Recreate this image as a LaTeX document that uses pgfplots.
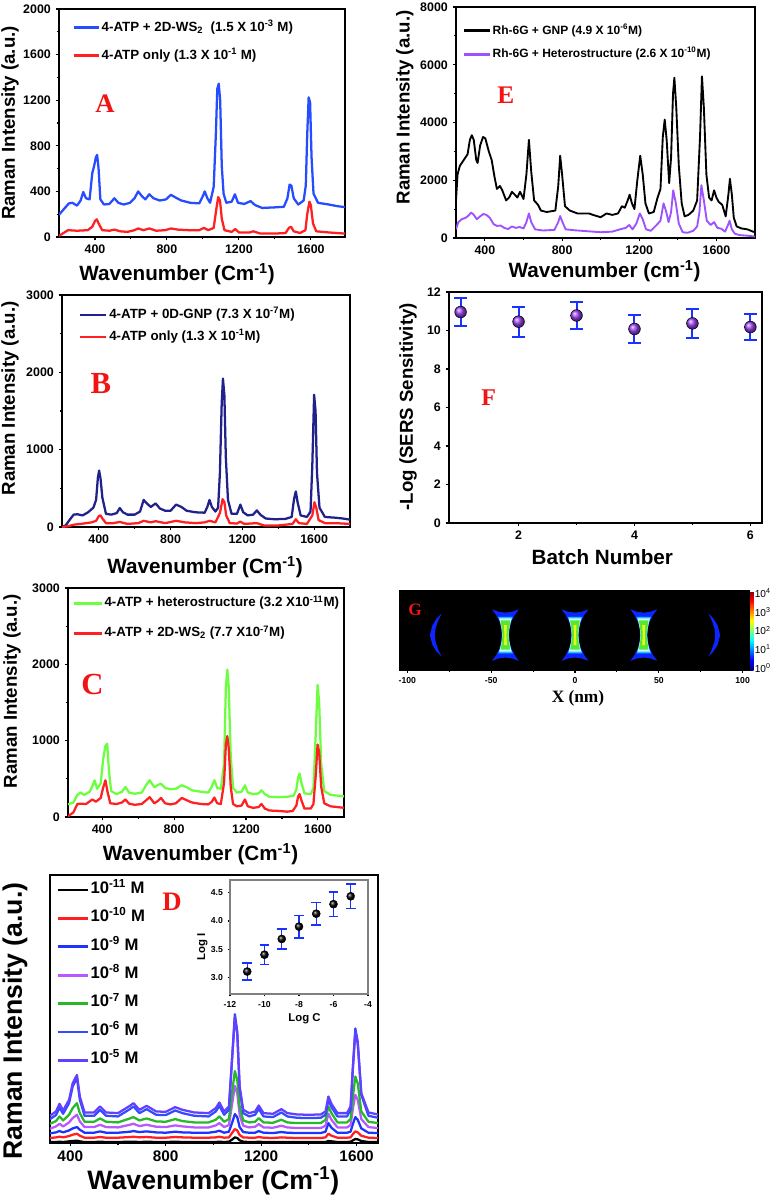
\documentclass[border=0pt]{standalone}
\usepackage{pgfplots}
\pgfplotsset{compat=1.18}
\usepackage{pgfplotstable}
\usepackage{fontspec}
\setmainfont{Liberation Sans}
\newfontfamily\tnr{Liberation Serif}

\definecolor{cBlueA}{rgb}{0.15,0.3,1}
\definecolor{cRed}{rgb}{1,0.13,0.13}
\definecolor{cNavy}{rgb}{0.13,0.13,0.55}
\definecolor{cGreen}{rgb}{0.42,1,0.25}
\definecolor{cPurE}{rgb}{0.62,0.32,1}
\definecolor{cErr}{rgb}{0.1,0.2,1}
\definecolor{cBallF}{rgb}{0.6,0.25,0.95}
\definecolor{dRed}{rgb}{1,0.12,0.12}
\definecolor{dBlue}{rgb}{0.12,0.2,1}
\definecolor{dPur}{rgb}{0.72,0.35,1}
\definecolor{dGreen}{rgb}{0.15,0.72,0.15}
\definecolor{dBlueB}{rgb}{0.2,0.3,1}
\definecolor{dViol}{rgb}{0.38,0.25,1}
\definecolor{gBlue}{rgb}{0.05,0.15,1}
\definecolor{gCyan}{rgb}{0.1,0.75,1}
\definecolor{gWhite}{rgb}{0.8,1,1}
\definecolor{gGreen}{rgb}{0.35,0.9,0.2}
\definecolor{gYellow}{rgb}{0.9,1,0.1}
\definecolor{letterred}{rgb}{0.95,0.08,0.08}

\newcommand\fs[1]{\fontsize{#1}{#1}\selectfont}

\pgfplotsset{
  panel/.style={
    scale only axis, anchor=north west,
    axis line style={line width=0.9pt},
    tick align=outside, tick pos=left,
    major tick length=2.6pt, minor tick length=1.6pt,
    every tick/.style={black, line width=0.8pt},
    /pgf/number format/assume math mode=true,
    /pgf/number format/1000 sep={},
    ticklabel style={font=\bfseries\fs{9.3}},
    ylabel style={font=\bfseries\fs{14}, anchor=center},
    xlabel style={font=\bfseries\fs{15.5}, anchor=center},
    legend cell align=left,
    legend style={draw=none, fill=none, anchor=north west,
      nodes={inner sep=1pt, text height=0.75em, text depth=0.25em}},
  },
  spec/.style={line width=1.7pt, mark=none, line join=round},
  limg/.style={legend image code/.code={\draw[##1, line width=2.2pt] (0pt,0pt) -- (#1,0pt);}},
}

\pgfplotstableread{
x c11 c10 c9 c8 c7 c6 c5
315 3 15 29 43 58 72 82
340 3 17 32 50 66 84 95
355 4 19 36 58 80 106 118
370 3 17 32 50 68 88 98
395 5 21 38 62 85 120 130
410 6 25 44 75 105 170 180
428 7 28 48 85 120 196 205
440 5 22 40 65 90 130 140
460 3 16 31 48 64 82 92
500 3 16 31 48 64 82 92
525 4 18 35 55 74 100 110
550 3 16 31 48 64 82 92
600 3 16 31 47 62 80 90
650 4 18 34 55 74 102 112
665 4 19 36 58 78 110 120
690 3 17 33 51 68 90 100
720 4 18 35 55 74 102 112
760 3 16 32 49 65 85 95
800 3 16 31 48 64 84 94
840 4 18 34 53 72 98 108
870 3 17 32 50 66 90 100
920 3 16 31 47 62 82 92
980 3 16 31 47 62 80 90
1010 3 17 34 53 70 95 105
1025 4 19 37 60 80 112 122
1045 3 16 31 48 64 85 95
1065 4 17 34 54 72 100 110
1078 10 30 60 115 150 250 250
1090 17 42 87 172 217 388 378
1100 15 38 78 150 190 335 330
1110 8 24 48 85 110 165 170
1125 4 17 33 52 68 90 100
1150 3 16 31 47 62 80 90
1175 3 16 31 49 64 85 95
1190 4 18 36 57 75 103 113
1210 3 16 31 47 62 80 90
1250 3 15 30 46 61 78 88
1285 3 17 33 52 70 92 102
1310 3 16 31 47 62 80 90
1350 3 15 30 45 60 76 86
1400 3 15 30 45 60 75 85
1450 3 15 30 45 60 76 86
1470 3 17 34 52 70 85 95
1482 6 28 60 88 110 130 140
1495 5 22 46 70 90 108 118
1520 3 16 31 47 62 80 90
1560 3 16 31 47 62 80 90
1575 4 17 34 54 72 100 110
1585 8 27 58 105 140 230 230
1595 12 35 78 145 200 345 335
1605 11 32 70 130 180 305 300
1620 6 22 44 72 95 145 150
1650 3 16 31 48 64 82 92
1690 3 15 30 45 60 76 86
}\tabD

\pgfplotstableread{
dx y
-8 15.5
-4 14
0 13.5
4 14
8 15.5
5.5 12
3.5 8
2.5 4
2.2 0
2.5 -4
3.5 -8
5.5 -12
8 -15.5
4 -14
0 -13.5
-4 -14
-8 -15.5
-5.5 -12
-3.5 -8
-2.5 -4
-2.2 0
-2.5 4
-3.5 8
-5.5 12
}\hgOuter

\pgfplotstableread{
dx y
-4.4 11
4.4 11
3.2 8
2.3 4
2.0 0
2.3 -4
3.2 -8
4.4 -11
-4.4 -11
-3.2 -8
-2.3 -4
-2.0 0
-2.3 4
-3.2 8
}\hgCyan

\pgfplotstableread{
dx y
-3.7 10
3.7 10
2.9 7
2.2 3.5
1.9 0
2.2 -3.5
2.9 -7
3.7 -10
-3.7 -10
-2.9 -7
-2.2 -3.5
-1.9 0
-2.2 3.5
-2.9 7
}\hgWhite

\pgfplotstableread{
dx y
-2.9 8.8
2.9 8.8
2.5 6
2.0 3
1.8 0
2.0 -3
2.5 -6
2.9 -8.8
-2.9 -8.8
-2.5 -6
-2.0 -3
-1.8 0
-2.0 3
-2.5 6
}\hgGreen

\pgfplotstableread{
dx y
-0.9 6
0.9 6
0.6 0
0.9 -6
-0.9 -6
-0.6 0
}\hgYellow

\begin{document}
\begin{tikzpicture}
\useasboundingbox (0,0) rectangle (582pt,-897.75pt);

% ---------------- Panel A ----------------
\begin{axis}[panel, at={(44.25pt,-6.75pt)}, width=214.5pt, height=171pt,
  xmin=200, xmax=1790, ymin=0, ymax=2000,
  xtick={400,800,1200,1600}, minor x tick num=1,
  ytick={0,400,...,2000}, minor y tick num=1,
  xlabel={Wavenumber (Cm\textsuperscript{-1})}, ylabel={Raman Intensity (a.u.)},
  xlabel style={at={(axis description cs:0.413,-0.162)}},
  ylabel style={at={(axis description cs:-0.171,0.5)}},
  limg=19pt,
  legend style={at={(0.031,0.965)}, font=\bfseries\fs{10}, row sep=9pt},
]
\addplot[spec, cBlueA] coordinates {(200,195) (230,250) (255,295) (275,300) (300,275) (320,320) (335,395) (350,340) (370,330) (385,560) (395,620) (405,700) (412,720) (420,600) (430,330) (450,285) (480,290) (508,340) (530,300) (560,285) (595,300) (620,340) (640,400) (660,360) (680,330) (702,375) (725,340) (760,320) (795,330) (822,370) (850,345) (880,320) (930,300) (980,295) (1000,360) (1010,400) (1025,340) (1040,300) (1060,440) (1072,900) (1080,1300) (1088,1345) (1096,1200) (1105,620) (1115,380) (1130,300) (1160,310) (1178,375) (1195,300) (1230,290) (1265,315) (1290,280) (1330,255) (1400,260) (1450,265) (1470,340) (1482,460) (1492,450) (1505,340) (1530,285) (1560,320) (1572,450) (1580,900) (1588,1225) (1596,1180) (1604,700) (1615,380) (1640,300) (1700,285) (1750,270) (1790,262)};
\addlegendentry{4-ATP + 2D-WS\textsubscript{2}\ \ (1.5 X 10\textsuperscript{-3} M)}
\addplot[spec, cRed] coordinates {(200,10) (220,30) (250,60) (300,55) (360,60) (385,90) (400,140) (410,155) (420,120) (440,60) (480,55) (508,65) (540,50) (580,45) (620,60) (640,75) (670,60) (702,75) (740,55) (790,60) (822,75) (860,65) (920,60) (980,60) (1005,80) (1030,60) (1060,80) (1075,250) (1085,350) (1095,320) (1105,160) (1120,60) (1160,45) (1180,70) (1200,40) (1260,40) (1280,50) (1320,30) (1400,30) (1460,35) (1478,80) (1490,90) (1505,50) (1540,35) (1570,60) (1580,200) (1592,310) (1600,280) (1612,120) (1630,50) (1700,40) (1790,30)};
\addlegendentry{4-ATP only (1.3 X 10\textsuperscript{-1} M)}
\end{axis}

% ---------------- Panel B ----------------
\begin{axis}[panel, at={(46.5pt,-221.25pt)}, width=216pt, height=174pt,
  xmin=195, xmax=1800, ymin=0, ymax=3000,
  xtick={400,800,1200,1600}, minor x tick num=1,
  ytick={0,1000,2000,3000}, minor y tick num=1,
  xlabel={Wavenumber (Cm\textsuperscript{-1})}, ylabel={Raman Intensity (a.u.)},
  xlabel style={at={(axis description cs:0.497,-0.172)}},
  ylabel style={at={(axis description cs:-0.18,0.554)}},
  limg=20pt,
  legend style={at={(0.042,0.961)}, font=\bfseries\fs{10}, row sep=4.5pt},
]
\addplot[spec, cNavy] coordinates {(195,0) (215,20) (240,100) (260,160) (280,165) (310,150) (340,190) (370,250) (385,350) (395,640) (402,730) (410,620) (420,380) (440,170) (470,160) (500,180) (517,245) (535,190) (560,160) (600,160) (630,200) (650,350) (670,300) (690,260) (717,305) (740,240) (770,210) (800,210) (831,290) (860,260) (890,210) (940,190) (990,185) (1005,260) (1017,350) (1030,260) (1050,200) (1065,250) (1075,700) (1085,1600) (1092,1920) (1100,1700) (1108,900) (1120,350) (1140,170) (1170,170) (1189,290) (1205,190) (1230,150) (1260,160) (1281,215) (1300,160) (1330,110) (1380,100) (1440,105) (1475,130) (1488,360) (1498,460) (1508,320) (1525,150) (1560,130) (1580,200) (1590,800) (1600,1710) (1608,1500) (1616,700) (1630,250) (1660,130) (1720,120) (1760,110) (1800,95)};
\addlegendentry{4-ATP + 0D-GNP (7.3 X 10\textsuperscript{-7}M)}
\addplot[spec, cRed] coordinates {(195,0) (230,10) (260,30) (300,40) (360,60) (385,80) (400,140) (410,150) (420,110) (440,50) (480,50) (517,65) (560,40) (620,50) (650,80) (690,60) (717,75) (770,50) (831,80) (880,60) (940,50) (990,60) (1017,80) (1050,60) (1075,180) (1090,360) (1100,320) (1110,150) (1130,50) (1170,45) (1189,70) (1210,40) (1281,50) (1320,20) (1400,20) (1480,40) (1498,100) (1515,50) (1560,40) (1590,150) (1602,320) (1612,250) (1625,90) (1660,50) (1720,50) (1800,40)};
\addlegendentry{4-ATP only (1.3 X 10\textsuperscript{-1}M)}
\end{axis}

% ---------------- Panel C ----------------
\begin{axis}[panel, at={(51pt,-441pt)}, width=207pt, height=171.75pt,
  xmin=210, xmax=1745, ymin=0, ymax=3000,
  xtick={400,800,1200,1600}, minor x tick num=1,
  ytick={0,1000,2000,3000}, minor y tick num=1,
  xlabel={Wavenumber (Cm\textsuperscript{-1})}, ylabel={Raman Intensity (a.u.)},
  xlabel style={at={(axis description cs:0.48,-0.164)}},
  ylabel style={at={(axis description cs:-0.203,0.549)}},
  limg=21pt,
  legend style={at={(0.0,0.98)}, font=\bfseries\fs{10}, row sep=10.5pt},
]
\addplot[spec, cGreen] coordinates {(210,165) (240,190) (262,290) (280,320) (300,290) (330,330) (345,400) (358,480) (372,370) (392,440) (405,750) (418,930) (428,960) (438,600) (450,340) (480,300) (510,330) (529,394) (550,320) (580,305) (620,320) (645,420) (664,482) (690,390) (710,420) (727,438) (750,380) (780,365) (810,370) (843,416) (870,390) (900,350) (950,330) (990,320) (1010,400) (1024,482) (1040,380) (1060,370) (1078,700) (1088,1700) (1096,1930) (1104,1700) (1115,800) (1128,380) (1150,320) (1175,330) (1194,416) (1210,320) (1240,300) (1270,310) (1286,350) (1305,300) (1330,265) (1380,260) (1430,265) (1465,280) (1480,360) (1490,520) (1498,569) (1508,450) (1525,310) (1560,300) (1575,380) (1588,1100) (1598,1730) (1607,1500) (1618,700) (1635,340) (1670,290) (1710,280) (1745,270)};
\addlegendentry{4-ATP + heterostructure (3.2 X10\textsuperscript{-11}M)}
\addplot[spec, cRed] coordinates {(210,10) (240,60) (262,170) (280,175) (310,170) (345,230) (365,200) (392,250) (405,380) (418,480) (430,330) (445,180) (480,170) (510,190) (529,230) (550,175) (580,160) (620,170) (645,220) (664,260) (690,180) (710,210) (727,250) (750,180) (780,165) (810,180) (843,250) (870,220) (900,190) (950,170) (990,165) (1010,200) (1024,255) (1040,180) (1060,170) (1078,450) (1088,950) (1096,1060) (1104,900) (1115,400) (1128,170) (1150,140) (1175,150) (1194,230) (1210,140) (1240,120) (1270,130) (1286,170) (1305,110) (1330,85) (1380,80) (1430,70) (1460,80) (1480,150) (1490,270) (1498,300) (1508,220) (1525,110) (1560,110) (1575,170) (1588,550) (1598,950) (1607,850) (1618,400) (1635,180) (1670,140) (1710,130) (1745,120)};
\addlegendentry{4-ATP + 2D-WS\textsubscript{2} (7.7 X10\textsuperscript{-7}M)}
\end{axis}

% ---------------- Panel D ----------------
\begin{axis}[panel, at={(37.5pt,-656.25pt)}, width=246pt, height=201pt,
  xmin=315, xmax=1690, ymin=0, ymax=807,
  xtick={400,800,1200,1600}, minor x tick num=1, ytick=\empty,
  ticklabel style={font=\bfseries\fs{11.5}},
  xlabel={Wavenumber (Cm\textsuperscript{-1})}, ylabel={Raman Intensity (a.u.)},
  xlabel style={font=\bfseries\fs{20}, at={(axis description cs:0.498,-0.142)}},
  ylabel style={font=\bfseries\fs{20}, at={(axis description cs:-0.107,0.455)}},
  limg=22.5pt,
  legend style={at={(0.006,0.985)}, font=\bfseries\fs{12.5}, row sep=9.3pt},
]
\addplot[spec, black] table[x=x, y=c11] {\tabD};
\addlegendentry{10\textsuperscript{-11} M}
\addplot[spec, dRed] table[x=x, y=c10] {\tabD};
\addlegendentry{10\textsuperscript{-10} M}
\addplot[spec, dBlue] table[x=x, y=c9] {\tabD};
\addlegendentry{10\textsuperscript{-9} M}
\addplot[spec, dPur] table[x=x, y=c8] {\tabD};
\addlegendentry{10\textsuperscript{-8} M}
\addplot[spec, dGreen] table[x=x, y=c7] {\tabD};
\addlegendentry{10\textsuperscript{-7} M}
\addplot[spec, dBlueB] table[x=x, y=c6] {\tabD};
\addlegendentry{10\textsuperscript{-6} M}
\addplot[spec, dViol] table[x=x, y=c5] {\tabD};
\addlegendentry{10\textsuperscript{-5} M}
\end{axis}

% ---------------- Inset of D ----------------
\begin{axis}[panel, at={(172.5pt,-660pt)}, width=103.5pt, height=85.5pt,
  xmin=-12, xmax=-4, ymin=2.7, ymax=4.73,
  xtick={-12,-10,-8,-6,-4}, minor x tick num=1,
  ytick={3,3.5,4,4.5}, minor y tick num=1,
  yticklabel style={/pgf/number format/fixed, /pgf/number format/fixed zerofill, /pgf/number format/precision=1},
  ticklabel style={font=\bfseries\fs{6.5}},
  axis line style={line width=0.8pt, draw=gray},
  major tick length=1.8pt, minor tick length=1.1pt,
  xlabel={Log C}, ylabel={Log I},
  xlabel style={font=\bfseries\fs{8.5}, at={(axis description cs:0.54,-0.215)}},
  ylabel style={font=\bfseries\fs{8.5}, at={(axis description cs:-0.2,0.41)}},
]
\addplot[only marks, mark=ball, mark size=3pt, mark options={ball color=black},
  error bars/.cd, y dir=both, y explicit,
  error bar style={line width=1.1pt, cErr},
  error mark options={rotate=90, mark size=3.6pt, line width=1.1pt, cErr}]
coordinates {(-11,3.10) +- (0,0.15) (-10,3.40) +- (0,0.17) (-9,3.68) +- (0,0.18) (-8,3.90) +- (0,0.20) (-7,4.13) +- (0,0.20) (-6,4.30) +- (0,0.22) (-5,4.44) +- (0,0.22)};
\end{axis}

% ---------------- Panel E ----------------
\begin{axis}[panel, at={(342pt,-5.25pt)}, width=224.25pt, height=173.25pt,
  xmin=250, xmax=1800, ymin=0, ymax=8000,
  xtick={400,800,1200,1600}, minor x tick num=1,
  ytick={0,2000,4000,6000,8000}, minor y tick num=1,
  xlabel={Wavenumber (cm\textsuperscript{-1})}, ylabel={Raman Intensity (a.u.)},
  xlabel style={at={(axis description cs:0.497,-0.143)}},
  ylabel style={at={(axis description cs:-0.171,0.565)}},
  limg=19.5pt,
  legend style={at={(0.007,0.944)}, font=\bfseries\fs{9}, row sep=5.5pt},
]
\addplot[line width=1.4pt, black, line join=round] coordinates {(250,1300) (258,2200) (270,2500) (290,2700) (310,2900) (322,3400) (332,3560) (342,3400) (355,2700) (362,2600) (375,3200) (390,3500) (402,3450) (420,3000) (435,2700) (450,2100) (462,1700) (478,1800) (490,1650) (510,1300) (525,1400) (540,1600) (555,1500) (568,1400) (582,1600) (600,1350) (615,2200) (628,3400) (640,2300) (655,1300) (675,1150) (690,950) (720,900) (765,950) (780,1800) (790,2850) (800,2200) (815,1100) (840,950) (880,850) (940,850) (960,800) (1000,720) (1030,850) (1060,800) (1090,850) (1110,1100) (1125,1050) (1140,1300) (1150,1500) (1162,1200) (1175,1000) (1190,2000) (1205,2850) (1218,2200) (1232,1200) (1250,850) (1275,900) (1295,1400) (1310,1700) (1322,3500) (1332,4100) (1342,3400) (1355,1900) (1365,2800) (1375,5000) (1382,5550) (1392,4500) (1405,2500) (1420,1200) (1435,750) (1455,800) (1480,950) (1500,1300) (1515,3500) (1525,5600) (1535,4500) (1548,2200) (1562,1400) (1575,1300) (1588,1650) (1600,1400) (1612,1250) (1630,1150) (1648,750) (1662,1500) (1670,2050) (1680,1500) (1690,700) (1705,400) (1730,330) (1760,300) (1790,220) (1800,200)};
\addlegendentry{Rh-6G + GNP (4.9 X 10\textsuperscript{-6}M)}
\addplot[line width=1.4pt, cPurE, line join=round] coordinates {(250,300) (262,550) (280,650) (300,700) (315,780) (328,880) (340,820) (358,650) (375,750) (392,830) (408,800) (425,700) (445,480) (462,420) (482,430) (500,350) (520,310) (540,400) (560,350) (580,380) (600,330) (615,550) (628,850) (640,550) (660,300) (700,260) (760,280) (780,550) (790,760) (802,550) (818,300) (860,270) (940,230) (1000,200) (1060,220) (1100,300) (1130,350) (1148,450) (1165,300) (1185,500) (1203,850) (1218,650) (1235,300) (1260,250) (1290,450) (1310,600) (1326,1200) (1340,900) (1352,550) (1365,900) (1376,1650) (1390,1200) (1405,500) (1425,200) (1450,180) (1480,250) (1500,400) (1512,900) (1522,1830) (1535,1300) (1550,600) (1570,450) (1588,550) (1605,350) (1625,320) (1645,220) (1660,450) (1668,600) (1680,300) (1695,150) (1720,100) (1760,80) (1800,50)};
\addlegendentry{Rh-6G + Heterostructure (2.6 X 10\textsuperscript{-10}M)}
\end{axis}

% ---------------- Panel F ----------------
\begin{axis}[panel, at={(336.75pt,-219pt)}, width=234.75pt, height=173.25pt,
  xmin=0.8, xmax=6.2, ymin=0, ymax=12,
  xtick={2,4,6}, minor x tick num=1,
  ytick={0,2,...,12},
  xlabel={Batch Number}, ylabel={-Log (SERS Sensitivity)},
  xlabel style={at={(axis description cs:0.49,-0.147)}},
  ylabel style={at={(axis description cs:-0.131,0.503)}},
]
\addplot[only marks, mark=ball, mark size=4.4pt, mark options={ball color=cBallF},
  error bars/.cd, y dir=both, y explicit,
  error bar style={line width=1.5pt, cErr},
  error mark options={rotate=90, mark size=4.6pt, line width=1.5pt, cErr}]
coordinates {(1,10.96) +- (0,0.74) (2,10.46) +- (0,0.78) (3,10.78) +- (0,0.72) (4,10.08) +- (0,0.74) (5,10.37) +- (0,0.76) (6,10.18) +- (0,0.69)};
\end{axis}

% ---------------- Panel G ----------------
\begin{axis}[panel, at={(300pt,-443.25pt)}, width=261.75pt, height=59.25pt,
  xmin=-104.4, xmax=103.8, ymin=-21, ymax=26.5,
  axis background/.style={fill=black}, axis on top,
  xtick={-100,-50,0,50,100}, minor x tick num=1, ytick=\empty,
  ticklabel style={font=\bfseries\fs{6.5}},
  major tick length=2pt, minor tick length=1.5pt,
  xlabel={X (nm)},
  xlabel style={font=\tnr\bfseries\fs{13}, at={(axis description cs:0.51,-0.354)}},
  colorbar, colormap/jet, point meta min=-0.1, point meta max=4.1,
  colorbar style={at={(parent axis.north east)}, anchor=north west, xshift=-7.75pt,
    width=2.6pt, ytick={0,1,2,3,4},
    yticklabels={10\textsuperscript{0},10\textsuperscript{1},10\textsuperscript{2},10\textsuperscript{3},10\textsuperscript{4}},
    yticklabel style={font=\fs{7.6}, inner sep=0.8pt, xshift=0pt},
    major tick length=0pt, axis line style={draw=none}},
]
% crescents
\addplot[fill=gBlue, draw=none] coordinates {(-79.5,13) (-82.5,10) (-85,6) (-86.6,0) (-85,-6) (-82.5,-10) (-79.5,-13) (-81.5,-9) (-83.2,-4) (-83.6,0) (-83.2,4) (-81.5,9)};
\addplot[fill=gBlue, draw=none] coordinates {(79.5,13) (82.5,10) (85,6) (86.6,0) (85,-6) (82.5,-10) (79.5,-13) (81.5,-9) (83.2,-4) (83.6,0) (83.2,4) (81.5,9)};
% hourglasses
\addplot[fill=gBlue, draw=none] table[x expr=\thisrow{dx}-41.5, y=y] {\hgOuter};
\addplot[fill=gBlue, draw=none] table[x expr=\thisrow{dx}, y=y] {\hgOuter};
\addplot[fill=gBlue, draw=none] table[x expr=\thisrow{dx}+41, y=y] {\hgOuter};
\addplot[fill=gCyan, draw=none] table[x expr=\thisrow{dx}-41.5, y=y] {\hgCyan};
\addplot[fill=gCyan, draw=none] table[x expr=\thisrow{dx}, y=y] {\hgCyan};
\addplot[fill=gCyan, draw=none] table[x expr=\thisrow{dx}+41, y=y] {\hgCyan};
\addplot[fill=gWhite, draw=none] table[x expr=\thisrow{dx}-41.5, y=y] {\hgWhite};
\addplot[fill=gWhite, draw=none] table[x expr=\thisrow{dx}, y=y] {\hgWhite};
\addplot[fill=gWhite, draw=none] table[x expr=\thisrow{dx}+41, y=y] {\hgWhite};
\addplot[fill=gGreen, draw=none] table[x expr=\thisrow{dx}-41.5, y=y] {\hgGreen};
\addplot[fill=gGreen, draw=none] table[x expr=\thisrow{dx}, y=y] {\hgGreen};
\addplot[fill=gGreen, draw=none] table[x expr=\thisrow{dx}+41, y=y] {\hgGreen};
\addplot[fill=gYellow, draw=none] table[x expr=\thisrow{dx}-41.5, y=y] {\hgYellow};
\addplot[fill=gYellow, draw=none] table[x expr=\thisrow{dx}, y=y] {\hgYellow};
\addplot[fill=gYellow, draw=none] table[x expr=\thisrow{dx}+41, y=y] {\hgYellow};
\end{axis}

% panel letters
\node[font=\tnr\bfseries\fs{20}, text=letterred] at (78.75pt,-78pt) {A};
\node[font=\tnr\bfseries\fs{23}, text=letterred] at (75.6pt,-287.25pt) {B};
\node[font=\tnr\bfseries\fs{23}, text=letterred] at (69.4pt,-513pt) {C};
\node[font=\tnr\bfseries\fs{20}, text=letterred] at (129pt,-676.5pt) {D};
\node[font=\tnr\bfseries\fs{19}, text=letterred] at (379.3pt,-71.25pt) {E};
\node[font=\tnr\bfseries\fs{18}, text=letterred] at (366.5pt,-298.5pt) {F};
\node[font=\tnr\bfseries\fs{13}, text=letterred] at (311.25pt,-457.5pt) {G};
\end{tikzpicture}
\end{document}
